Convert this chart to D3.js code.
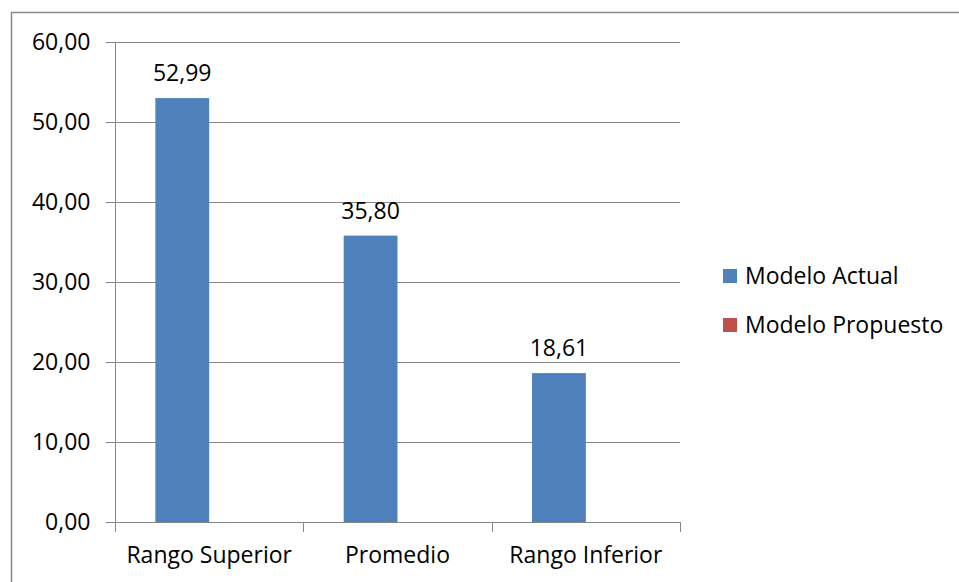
<!DOCTYPE html>
<html>
<head>
<meta charset="utf-8">
<script src="https://cdn.jsdelivr.net/npm/d3@7/dist/d3.min.js"></script>
<style>
  html, body { margin: 0; padding: 0; background: #fff; }
  svg { display: block; font-family: "Open Sans", sans-serif; }
</style>
</head>
<body>
<svg id="chart" width="959" height="582"></svg>
<script>
// Chart data
const categories = ["Rango Superior", "Promedio", "Rango Inferior"];
const seriesNames = ["Modelo Actual", "Modelo Propuesto"];
const modeloActual = [52.99, 35.80, 18.61];
const modeloPropuesto = [0, 0, 0];
const yTicks = [0, 10, 20, 30, 40, 50, 60];
const seriesColors = ["#4F81BD", "#C0504D"];

const FONT = "'Open Sans', sans-serif";
const FS = 23;
const fmt = v => d3.format(".2f")(v).replace(".", ",");

const svg = d3.select("#chart");
const plot = { left: 115, right: 680, top: 42, bottom: 522 };

// Outer chart frame
svg.append("rect")
  .attr("x", 11.5).attr("y", 12.5)
  .attr("width", 1000).attr("height", 700)
  .attr("fill", "#fff").attr("stroke", "#878787").attr("stroke-width", 1.5);

const x = d3.scaleBand().domain(categories).range([plot.left, plot.right]).paddingInner(0).paddingOuter(0);
const y = d3.scaleLinear().domain([0, 60]).range([plot.bottom, plot.top]);

// Inner band for the two series; gap width 150% of bar width
const barW = x.bandwidth() / 3.5;
const xs = d3.scaleBand().domain(seriesNames).range([0, 2 * barW]);

// Gridlines
svg.append("g")
  .selectAll("line").data(yTicks.filter(t => t > 0)).join("line")
  .attr("x1", plot.left).attr("x2", plot.right)
  .attr("y1", d => Math.round(y(d)) + 0.5).attr("y2", d => Math.round(y(d)) + 0.5)
  .attr("stroke", "#868686").attr("stroke-width", 1);

// Bars
const series = [modeloActual, modeloPropuesto];
series.forEach((vals, si) => {
  svg.append("g").selectAll("rect").data(vals).join("rect")
    .attr("x", (d, i) => x(categories[i]) + (x.bandwidth() - 2 * barW) / 2 + xs(seriesNames[si]))
    .attr("y", d => y(d))
    .attr("width", barW)
    .attr("height", d => y(0) - y(d))
    .attr("fill", seriesColors[si]);
});

// Value labels for the current model
svg.append("g").selectAll("text").data(modeloActual).join("text")
  .attr("x", (d, i) => x(categories[i]) + (x.bandwidth() - 2 * barW) / 2 + barW / 2)
  .attr("y", d => y(d) - 17)
  .attr("text-anchor", "middle")
  .attr("font-size", FS)
  .attr("fill", "#000")
  .text(d => fmt(d));

// Y axis
const yAxis = svg.append("g")
  .attr("transform", `translate(${plot.left + 0.5},0)`)
  .call(d3.axisLeft(y).tickValues(yTicks).tickFormat(fmt).tickSize(10).tickPadding(15));
yAxis.select(".domain").attr("stroke", "#868686").attr("d", `M0,${plot.top}V${plot.bottom}`);
yAxis.selectAll(".tick line").attr("stroke", "#868686");
yAxis.selectAll(".tick text").attr("font-size", FS).attr("fill", "#000").attr("font-family", FONT);

// X axis
const xAxis = svg.append("g")
  .attr("transform", `translate(0,${plot.bottom + 0.5})`)
  .call(d3.axisBottom(x).tickSize(0).tickPadding(24));
xAxis.select(".domain").attr("stroke", "#868686").attr("d", `M${plot.left},0H${plot.right}`);
xAxis.selectAll(".tick text").attr("font-size", FS).attr("fill", "#000").attr("font-family", FONT);
// Category divider ticks
svg.append("g").selectAll("line")
  .data([...categories.map(c => x(c)), plot.right]).join("line")
  .attr("x1", d => Math.round(d) + 0.5).attr("x2", d => Math.round(d) + 0.5)
  .attr("y1", plot.bottom).attr("y2", plot.bottom + 10)
  .attr("stroke", "#868686");

// Legend
const legend = svg.append("g").attr("transform", "translate(723,269)");
seriesNames.forEach((name, i) => {
  const g = legend.append("g").attr("transform", `translate(0,${i * 49})`);
  g.append("rect").attr("width", 14).attr("height", 14).attr("fill", seriesColors[i]);
  g.append("text").attr("x", 22).attr("y", 15).attr("font-size", FS).attr("fill", "#000").text(name);
});
</script>
</body>
</html>
